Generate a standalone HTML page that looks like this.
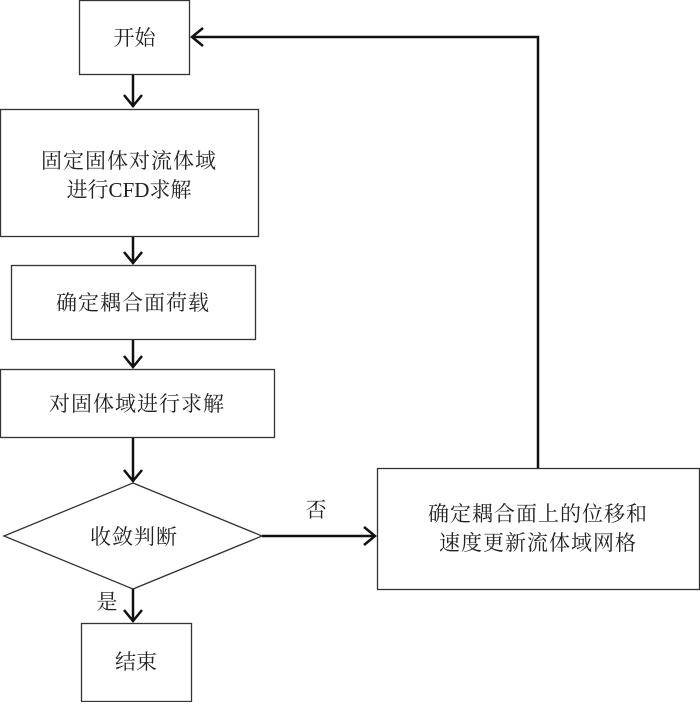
<!DOCTYPE html>
<html><head><meta charset="utf-8"><style>
html,body{margin:0;padding:0;background:#fff;}
svg text{font-family:"Liberation Serif","Noto Serif CJK SC","Noto Sans CJK SC",serif;font-size:21px;fill:#222;}
</style></head><body>
<svg width="700" height="702" viewBox="0 0 700 702" xmlns="http://www.w3.org/2000/svg">
<g fill="none" stroke="#333" stroke-width="1.3">
<rect x="79.5" y="0.5" width="110" height="74"/>
<rect x="0.5" y="109.5" width="258" height="127"/>
<rect x="11.5" y="265.5" width="244" height="74"/>
<rect x="0.5" y="369.5" width="274" height="68"/>
<polygon points="4,536 133,483 262,536 133,589"/>
<rect x="377.5" y="468.5" width="322" height="121"/>
<rect x="81.5" y="623.5" width="110" height="78"/>
</g>
<g fill="none" stroke="#111" stroke-width="2.5">
<line x1="133" y1="75" x2="133" y2="107"/>
<polyline points="124,95 133,106 142,95"/>
<line x1="133" y1="237" x2="133" y2="263"/>
<polyline points="124,252 133,263 142,252"/>
<line x1="133" y1="340" x2="133" y2="367"/>
<polyline points="124,356 133,367 142,356"/>
<line x1="133" y1="438" x2="133" y2="481"/>
<polyline points="124,470 133,481 142,470"/>
<line x1="133" y1="589" x2="133" y2="621"/>
<polyline points="124,610 133,621 142,610"/>
<line x1="262" y1="536" x2="375" y2="536"/>
<polyline points="364,527 375,536 364,545"/>
<polyline points="538,468 538,37 192,37"/>
<polyline points="203,28 192,37 203,46"/>
</g>
<text x="134.5" y="45" text-anchor="middle">开始</text>
<text x="129" y="168" text-anchor="middle" letter-spacing="1">固定固体对流体域</text>
<text x="129" y="197" text-anchor="middle">进行CFD求解</text>
<text x="133" y="310" text-anchor="middle" letter-spacing="1">确定耦合面荷载</text>
<text x="137" y="411" text-anchor="middle" letter-spacing="1">对固体域进行求解</text>
<text x="134" y="544" text-anchor="middle" letter-spacing="1">收敛判断</text>
<text x="538" y="521" text-anchor="middle" letter-spacing="1">确定耦合面上的位移和</text>
<text x="538" y="550" text-anchor="middle" letter-spacing="1">速度更新流体域网格</text>
<text x="316" y="517" text-anchor="middle">否</text>
<text x="107" y="609" text-anchor="middle">是</text>
<text x="136" y="669" text-anchor="middle">结束</text>
</svg>
</body></html>
